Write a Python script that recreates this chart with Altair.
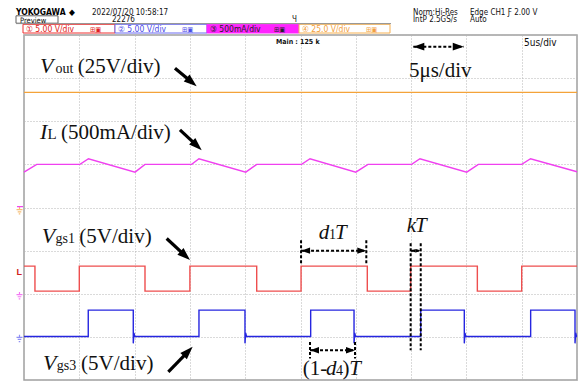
import math
import altair as alt
import pandas as pd

# ---------------- values (time in µs, position in divisions) -------------
vout_t = [0.0, 50.0]
vout_v = [2.67, 2.67]

il_t = [0.0, 1.15, 5.06, 5.83, 10.04, 10.94, 15.16, 15.82, 20.05, 21.04,
        25.10, 25.86, 30.00, 31.10, 35.05, 35.80, 40.03, 41.08, 45.00, 45.80, 50.0]
il_v = [0.82, 1.00, 1.00, 1.13, 0.82, 1.00, 1.00, 1.13, 0.82, 1.00,
        1.00, 1.13, 0.82, 1.00, 1.00, 1.13, 0.82, 1.00, 1.00, 1.13, 0.83]

vgs1_edges = [0.99, 5.00, 10.94, 15.00, 21.04, 25.05, 31.04, 34.96, 40.99, 45.00]
vgs1_high, vgs1_low = -1.36, -1.94

vgs3_edges = [5.81, 9.88, 15.82, 19.98, 25.92, 29.84, 35.87, 39.81, 45.81, 49.82]
vgs3_high, vgs3_low = -2.38, -2.99
vgs3_ring_dt = [0.0, 0.06, 0.14]
vgs3_ring_dv = [-0.16, 0.08, 0.0]

series_names = ["Vout", "IL", "Vgs1", "Vgs3"]
series_colors = ["#f4a33a", "#f040f0", "#ee4e4e", "#2626e0"]

grid_t = [0, 5, 10, 15, 20, 25, 30, 35, 40, 45, 50]
grid_v = [-4, -3, -2, -1, 0, 1, 2, 3, 4]

# ---------------- geometry ----------------
W, H = 553, 345
PX_X, PX_Y = W / 50.0, H / 8.0


def page(px, py):
    return (px - 24.0) / PX_X, 4.0 - (py - 35.0) / PX_Y


SC_X = alt.Scale(domain=[0, 50], nice=False, zero=False)
SC_Y = alt.Scale(domain=[-4, 4], nice=False, zero=False)
AX_X = alt.Axis(values=grid_t, grid=True, labels=False, ticks=False, domain=False, title=None,
                gridDash=[1, 2], gridColor="#b4b4b4", gridWidth=1)
AX_Y = alt.Axis(values=grid_v, grid=True, labels=False, ticks=False, domain=False, title=None,
                gridDash=[1, 2], gridColor="#b4b4b4", gridWidth=1)


def X(f):
    return alt.X(f"{f}:Q", scale=SC_X, axis=AX_X)


def Y(f):
    return alt.Y(f"{f}:Q", scale=SC_Y, axis=AX_Y)


def square(edges, start_high, hi, lo, ring_dt=None, ring_dv=None):
    ts, vs = [0.0], [hi if start_high else lo]
    high = start_high
    for e in edges:
        ts.append(e)
        vs.append(hi if high else lo)
        high = not high
        if not high and ring_dt:
            for dt, dv in zip(ring_dt, ring_dv):
                ts.append(e + dt)
                vs.append(lo + dv)
        else:
            ts.append(e)
            vs.append(hi if high else lo)
    ts.append(50.0)
    vs.append(hi if high else lo)
    return ts, vs


g1_t, g1_v = square(vgs1_edges, True, vgs1_high, vgs1_low)
g3_t, g3_v = square(vgs3_edges, False, vgs3_high, vgs3_low, vgs3_ring_dt, vgs3_ring_dv)

traces = [(vout_t, vout_v), (il_t, il_v), (g1_t, g1_v), (g3_t, g3_v)]
layers = []
for (ts, vs), name, col in zip(traces, series_names, series_colors):
    df = pd.DataFrame({"t": ts, "v": vs, "i": list(range(len(ts)))})
    layers.append(alt.Chart(df).mark_line(color=col, strokeWidth=1.4).encode(
        x=X("t"), y=Y("v"), order="i:Q"))

# ---------------- ground / level markers on the left ----------------
GND = "M0,-1.6V-0.7M-1,-0.7H1M-0.6,0H0.6M-0.25,0.7H0.25"
gnd_x, _ = page(19.5, 0)
gnd_df = pd.DataFrame({"t": [gnd_x] * 3, "v": [-0.10, -2.07, -3.06],
                       "c": ["#f4a33a", "#f040f0", "#6060f0"]})
layers.append(alt.Chart(gnd_df).mark_point(shape=GND, filled=False, size=36, strokeWidth=1.2).encode(
    x=X("t"), y=Y("v"), color=alt.Color("c:N", scale=None)))
dash_x1, _ = page(17, 0)
dash_x2, _ = page(23, 0)
layers.append(alt.Chart(pd.DataFrame({"t": [dash_x1], "t2": [dash_x2], "v": [0.02]})).mark_rule(
    color="#f040f0", strokeWidth=1.2).encode(x=X("t"), x2="t2:Q", y=Y("v")))
lx, _ = page(16.5, 0)
layers.append(alt.Chart(pd.DataFrame({"t": [lx], "v": [-1.5], "s": ["L"]})).mark_text(
    color="#d02020", fontSize=9, fontWeight="bold", align="left", baseline="middle",
    font="Liberation Sans").encode(x=X("t"), y=Y("v"), text="s:N"))

# ---------------- header of the oscilloscope screen ----------------
box_px = [(16, 15.8, 58, 23.2), (23, 24.3, 115, 33), (115, 24.3, 207, 33), (207, 24.3, 299, 33), (299, 24.3, 390, 33)]
box_fill = ["#ffffff", "#ffffff", "#ffffff", "#ff22ff", "#ffffff"]
box_stroke = ["#606060", "#ee3030", "#6a6af0", "#ff22ff", "#f6b050"]
brow = []
for (a, b, c, d), f, s in zip(box_px, box_fill, box_stroke):
    t1, v1 = page(a, b)
    t2, v2 = page(c, d)
    brow.append({"t": t1, "v": v1, "t2": t2, "v2": v2, "f": f, "s": s})
layers.append(alt.Chart(pd.DataFrame(brow)).mark_rect(strokeWidth=1).encode(
    x=X("t"), y=Y("v"), x2="t2:Q", y2="v2:Q",
    fill=alt.Fill("f:N", scale=None), stroke=alt.Stroke("s:N", scale=None)))
lt1, lv = page(16, 23.6)
lt2, _ = page(391, 23.6)
layers.append(alt.Chart(pd.DataFrame({"t": [lt1], "t2": [lt2], "v": [lv]})).mark_rule(
    color="#909090", strokeWidth=1).encode(x=X("t"), x2="t2:Q", y=Y("v")))

hdr_text = ["YOKOGAWA", "◆", "2022/07/20 10:58:17", "Preview", "22276", "Ч",
            "Norm:Hi-Res", "Edge CH1 Ƒ 2.00 V", "IntP 2.5GS/s", "Auto",
            "① 5.00 V/div", "② 5.00 V/div", "③ 500mA/div", "④ 25.0 V/div",
            "⊞▣", "⊞▣", "⊞▣", "⊞▣", "Main : 125 k", "5us/div"]
hdr_px = [16, 69, 92, 20, 112, 292, 413, 470, 413, 470, 26, 118, 210, 302, 90, 182, 274, 366, 276, 524]
hdr_py = [14.8, 14.8, 14.6, 22.5, 22.4, 22.4, 14.6, 14.6, 22.4, 22.4, 31.8, 31.8, 31.8, 31.8, 31.5, 31.5, 31.5, 31.5, 44, 46]
hdr_size = [8.5, 8.5, 8, 7.5, 8, 8, 8, 8, 8, 8, 8.5, 8.5, 8.5, 8.5, 7, 7, 7, 7, 7, 10]
hdr_color = ["#000000", "#000000", "#111111", "#111111", "#111111", "#111111", "#111111", "#111111",
             "#111111", "#111111", "#e02020", "#4a4ae8", "#222222", "#f2a040",
             "#e02020", "#4a4ae8", "#222222", "#f2a040", "#111111", "#111111"]
hdr_bold = [1, 1, 0, 0, 0, 0, 0, 0, 0, 0, 0, 0, 0, 0, 0, 0, 0, 0, 1, 0]
hrows = []
for s, px, py, fs, c, b in zip(hdr_text, hdr_px, hdr_py, hdr_size, hdr_color, hdr_bold):
    t, v = page(px, py)
    hrows.append({"s": s, "t": t, "v": v, "fs": fs, "c": c, "b": b})
hdf = pd.DataFrame(hrows)
HFONT = "Liberation Sans Narrow, DejaVu Sans Condensed, Arial Narrow, Liberation Sans, sans-serif"
for b, w in [(0, "normal"), (1, "bold")]:
    layers.append(alt.Chart(hdf[hdf.b == b]).mark_text(
        align="left", baseline="alphabetic", font=HFONT, fontWeight=w).encode(
        x=X("t"), y=Y("v"), text="s:N", size=alt.Size("fs:Q", scale=None),
        color=alt.Color("c:N", scale=None)))

# ---------------- annotation arrows ----------------
HEAD = "M0,0L0.7,2L-0.7,2Z"
arr_t1 = [13.65, 14.10, 12.90, 13.05]
arr_v1 = [3.23, 1.80, -0.72, -3.81]
arr_t2 = [15.61, 16.07, 15.01, 15.25]
arr_v2 = [2.81, 1.33, -1.22, -3.23]
shaft, heads = [], []
for t1, v1, t2, v2 in zip(arr_t1, arr_v1, arr_t2, arr_v2):
    dx = (t2 - t1) * PX_X
    dy = -(v2 - v1) * PX_Y
    L = math.hypot(dx, dy)
    ang = math.degrees(math.atan2(dx, -dy)) % 360
    back = 7.0
    shaft.append({"t": t1, "v": v1, "t2": t2 - dx / L * back / PX_X, "v2": v2 + dy / L * back / PX_Y})
    heads.append({"t": t2, "v": v2, "a": ang, "sz": 169})
layers.append(alt.Chart(pd.DataFrame(shaft)).mark_rule(color="black", strokeWidth=3.2).encode(
    x=X("t"), y=Y("v"), x2="t2:Q", y2="v2:Q"))

dsh_t1 = [35.2, 25.05, 25.05, 30.95, 34.96, 34.96, 35.87, 25.86, 25.86, 29.93]
dsh_v1 = [3.73, -1.0, -0.76, -0.76, -1.0, -0.83, -0.83, -3.31, -3.12, -3.12]
dsh_t2 = [39.76, 30.95, 25.05, 30.95, 35.87, 34.96, 35.87, 29.93, 25.86, 29.93]
dsh_v2 = [3.73, -1.0, -1.29, -1.29, -1.0, -3.31, -3.31, -3.31, -3.50, -3.50]
layers.append(alt.Chart(pd.DataFrame({"t": dsh_t1, "v": dsh_v1, "t2": dsh_t2, "v2": dsh_v2})).mark_rule(
    color="black", strokeWidth=2, strokeDash=[3, 2]).encode(x=X("t"), y=Y("v"), x2="t2:Q", y2="v2:Q"))

dh_t = [35.2, 39.76, 25.05, 30.95, 34.96, 35.87, 25.86, 29.93]
dh_v = [3.73, 3.73, -1.0, -1.0, -1.0, -1.0, -3.31, -3.31]
dh_a = [270, 90, 270, 90, 270, 90, 270, 90]
dh_sz = [121, 121, 81, 81, 25, 25, 81, 81]
for t, v, a, sz in zip(dh_t, dh_v, dh_a, dh_sz):
    heads.append({"t": t, "v": v, "a": a, "sz": sz})
layers.append(alt.Chart(pd.DataFrame(heads)).mark_point(shape=HEAD, filled=True, color="black",
                                                         opacity=1, strokeWidth=0).encode(
    x=X("t"), y=Y("v"), angle=alt.Angle("a:Q", scale=None), size=alt.Size("sz:Q", scale=None)))

# ---------------- annotation texts ----------------
ann_txt = ["V", "out", "(25V/div)", "I", "L", "(500mA/div)", "V", "gs1", "(5V/div)",
           "V", "gs3", "(5V/div)", "5μs/div", "d", "1", "T", "k", "T", "(1-", "d", "4", ")", "T"]
ann_t = [1.45, 2.85, 4.85, 1.45, 2.12, 3.35, 1.60, 2.85, 5.0,
         1.72, 2.97, 5.16, 34.8, 26.65, 27.58, 28.12, 34.6, 35.35, 25.2, 27.3, 28.2, 28.8, 29.4]
ann_v = [3.11] * 3 + [1.58] * 3 + [-0.82] * 3 + [-3.77] * 3 + [3.03] + [-0.72] * 3 + [-0.56] * 2 + [-3.89] * 5
ann_size = [22, 14, 21, 22, 15, 21, 22, 14, 21, 22, 14, 21, 21, 21, 14, 21, 21, 21, 21, 21, 14, 21, 21]
ann_ital = [1, 0, 0, 1, 0, 0, 1, 0, 0, 1, 0, 0, 0, 1, 0, 1, 1, 1, 0, 1, 0, 0, 1]
adf = pd.DataFrame({"s": ann_txt, "t": ann_t, "v": ann_v, "fs": ann_size, "it": ann_ital})
SERIF = "Times New Roman, Liberation Serif, serif"
for it, st in [(0, "normal"), (1, "italic")]:
    layers.append(alt.Chart(adf[adf.it == it]).mark_text(
        align="left", baseline="alphabetic", font=SERIF, fontStyle=st, color="#111111").encode(
        x=X("t"), y=Y("v"), text="s:N", size=alt.Size("fs:Q", scale=None)))

chart = alt.layer(*layers).properties(
    width=W, height=H,
    padding={"left": 16, "top": 27, "right": 1, "bottom": 2},
    autosize=alt.AutoSizeParams(type="none"),
    background="white",
).configure_view(stroke="#a0a0a0", strokeWidth=1.5)

chart.save("out.html", embed_options={"renderer": "svg", "actions": False})
